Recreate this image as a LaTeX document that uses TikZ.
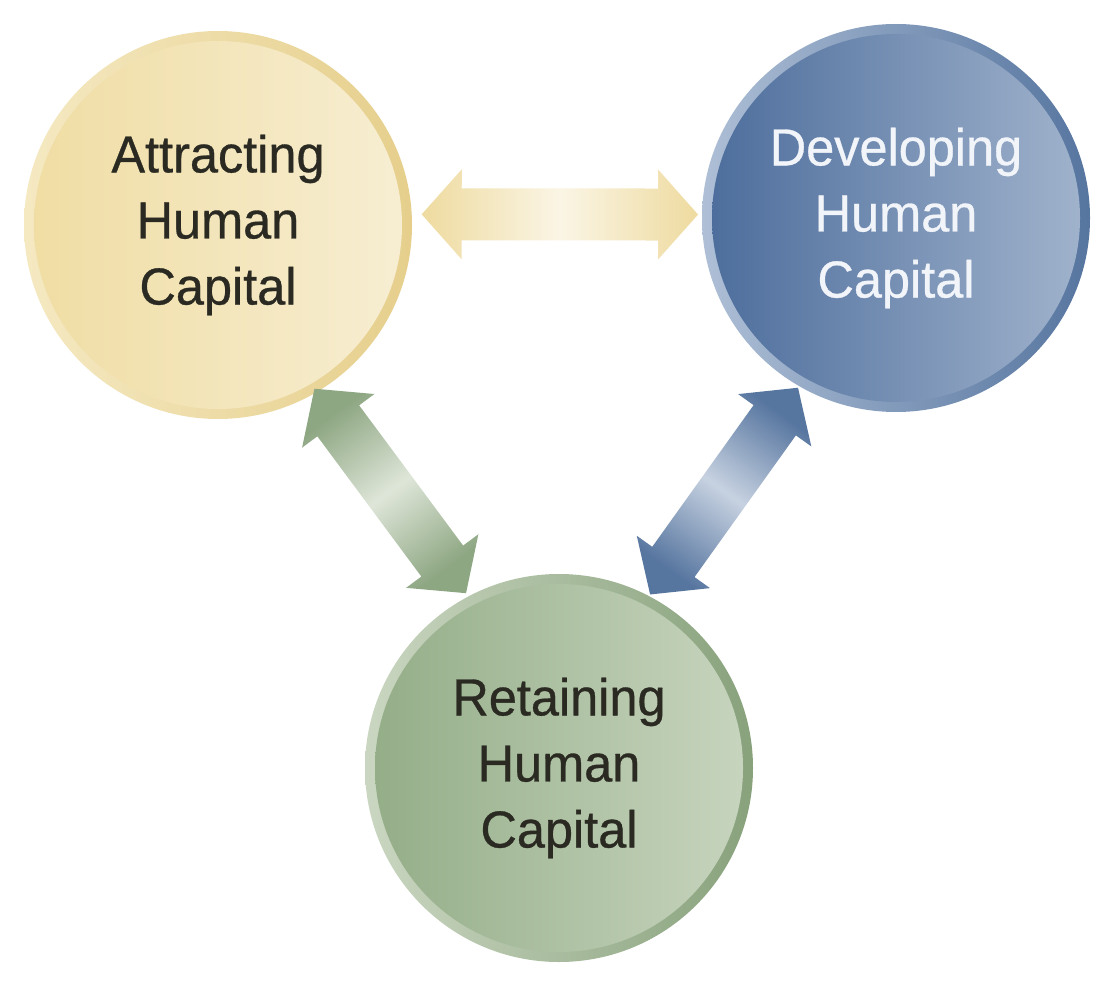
\documentclass[tikz,border=0pt]{standalone}
\usepackage{fontspec}
\setmainfont{Liberation Sans}[FakeStretch=0.97, FakeBold=0.6]
\usetikzlibrary{calc}

\definecolor{yelrim}{HTML}{F5E9C2}
\definecolor{yeledge}{HTML}{E6CF8C}
\definecolor{yeldark}{HTML}{F0DDA3}
\definecolor{yellight}{HTML}{F7EED3}
\definecolor{bluerim}{HTML}{AEBFD6}
\definecolor{blueedge}{HTML}{56759F}
\definecolor{bluedark}{HTML}{4B6C9B}
\definecolor{bluelight}{HTML}{A2B4CD}
\definecolor{grnrim}{HTML}{CAD6C1}
\definecolor{grnedge}{HTML}{88A27C}
\definecolor{grndark}{HTML}{93AD87}
\definecolor{grnlight}{HTML}{C8D5BF}
\definecolor{inkdark}{HTML}{2A2A22}
\definecolor{inklight}{HTML}{F1F4F9}

% fat double arrow between two tips: #1,#2 tips, #3 end colour, #4 middle colour, #5 shading angle
\newcommand\dblarrow[5]{%
  \coordinate (#1h) at ($(#1)!1cm!(#2)$);
  \coordinate (#2h) at ($(#2)!1cm!(#1)$);
  \shade[left color=#3, right color=#3, middle color=#4, shading angle=#5]
    (#1) -- ($(#1h)!1.125cm!90:(#2)$) -- ($(#1h)!0.65cm!90:(#2)$)
    -- ($(#2h)!0.65cm!-90:(#1)$) -- ($(#2h)!1.125cm!-90:(#1)$) -- (#2)
    -- ($(#2h)!1.125cm!90:(#1)$) -- ($(#2h)!0.65cm!90:(#1)$)
    -- ($(#1h)!0.65cm!-90:(#2)$) -- ($(#1h)!1.125cm!-90:(#2)$) -- cycle;}

\begin{document}
\begin{tikzpicture}[
  ball/.style n args = {4}{circle, minimum size=9.7cm, inner sep=0pt,
    align=center, font=\fontsize{37}{47}\selectfont,
    left color=#1, right color=#2,
    path picture={\shade[left color=#3, right color=#4]
      (path picture bounding box.center) circle (4.6cm);}}
]

% Frame
\useasboundingbox[fill=white] (0,0) rectangle (27.4,-24.575);

% Circles
\node[ball={yelrim}{yeledge}{yeldark}{yellight}, text=inkdark]
  (att) at (5.45,-5.625) {Attracting\\Human\\Capital};
\node[ball={bluerim}{blueedge}{bluedark}{bluelight}, text=inklight]
  (dev) at (22.4,-5.45) {Developing\\Human\\Capital};
\node[ball={grnrim}{grnedge}{grndark}{grnlight}, text=inkdark]
  (ret) at (13.975,-19.2) {Retaining\\Human\\Capital};

% Arrow tips
\coordinate (ad1) at ($(att.center)+(3:5.1cm)$);
\coordinate (ad2) at ($(dev.center)+(179:4.95cm)$);
\coordinate (ar1) at ($(att.center)+(-59.5:4.75cm)$);
\coordinate (ar2) at ($(ret.center)+(118:4.95cm)$);
\coordinate (dr1) at ($(dev.center)+(240:4.9cm)$);
\coordinate (dr2) at ($(ret.center)+(62.3:4.9cm)$);

% Double arrows
\dblarrow{ad1}{ad2}{yeldark!85!yeledge}{yellight!60!white}{90}
\dblarrow{ar1}{ar2}{grnedge!95!white}{grnlight!60!white}{36.6}
\dblarrow{dr1}{dr2}{blueedge}{bluelight!60!white}{-35.6}

\end{tikzpicture}
\end{document}
